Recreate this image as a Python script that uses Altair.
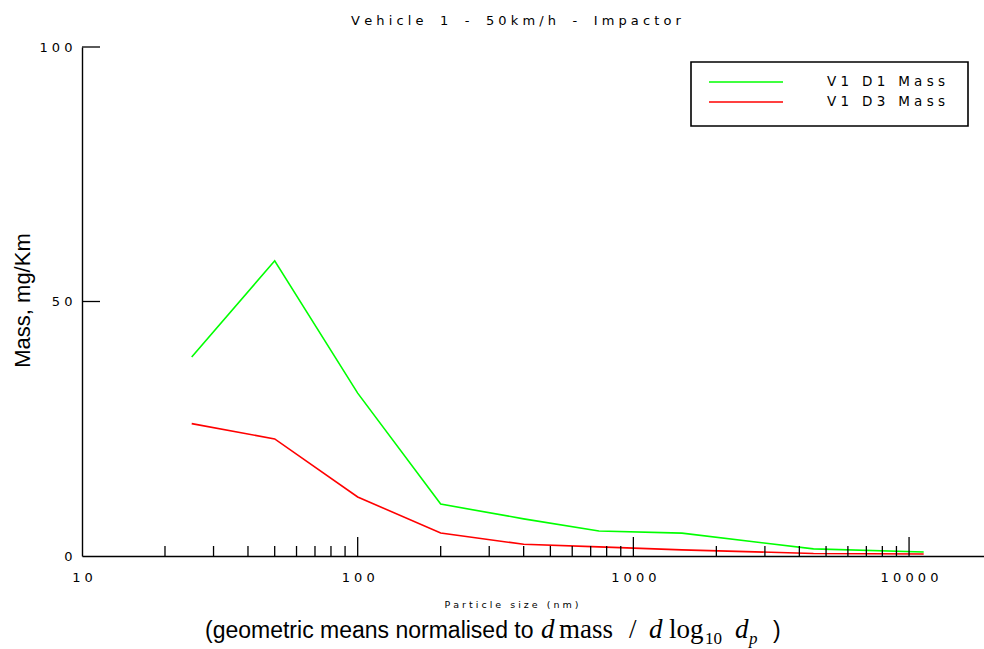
import altair as alt
import pandas as pd

# ---------------- data ----------------
sizes_nm = [25, 50, 100, 200, 400, 750, 1500, 4500, 11300]
v1_d1_mass = [39.1, 58.0, 32.0, 10.2, 7.3, 4.9, 4.5, 1.4, 0.8]
v1_d3_mass = [26.0, 23.0, 11.6, 4.5, 2.3, 1.8, 1.2, 0.5, 0.4]
series_names = ["V1 D1 Mass", "V1 D3 Mass"]
series_colors = ["#00ff00", "#ff0000"]

x_label_values = [10, 100, 1000, 10000]
y_label_values = [0, 50, 100]
x_minor_ticks = [20, 30, 40, 50, 60, 70, 80, 90,
                 200, 300, 400, 500, 600, 700, 800, 900,
                 2000, 3000, 4000, 5000, 6000, 7000, 8000, 9000]
x_major_ticks = [100, 1000, 10000]
y_major_ticks = [50, 100]

title_text = "Vehicle 1 - 50km/h - Impactor"
x_title = "Particle size (nm)"
y_title = "Mass, mg/Km"
caption_prefix = "(geometric means normalised to"

# ---------------- layout ----------------
W, H = 902, 509
PAD = {"left": 82, "top": 47, "right": 0, "bottom": 93}
FONT_UI = "DejaVu Sans"
NB = "\u00a0"


def spaced(s, gap=2):
    words = s.split(" ")
    return (" " + NB * gap + " ").join(" ".join(list(w)) for w in words)


rows = []
for s, m1, m3 in zip(sizes_nm, v1_d1_mass, v1_d3_mass):
    rows.append({"size": s, "mass": m1, "series": series_names[0]})
    rows.append({"size": s, "mass": m3, "series": series_names[1]})
df = pd.DataFrame(rows)

x_scale = alt.Scale(type="log", domain=[10, 18700], nice=False)
y_scale = alt.Scale(domain=[0, 100], nice=False, zero=True)

spaced_expr = "join(split(toString(datum.value), ''), ' ')"

x_axis = alt.Axis(
    values=x_label_values, ticks=False, grid=False,
    domainColor="black", domainWidth=1.4,
    labelExpr=spaced_expr, labelFont=FONT_UI, labelFontSize=13,
    labelColor="black", labelPadding=15, labelFlush=False,
    labelOverlap=False,
    title=spaced(x_title, 1),
    titleFont=FONT_UI, titleFontSize=9.5, titleFontWeight="normal",
    titleColor="black", titleX=429, titleY=48,
    titleAlign="center", titleBaseline="middle",
)
y_axis = alt.Axis(
    values=y_label_values, ticks=False, grid=False,
    domainColor="black", domainWidth=1.4,
    labelExpr=spaced_expr, labelFont=FONT_UI, labelFontSize=13,
    labelColor="black", labelPadding=10, labelBaseline="middle",
    labelOverlap=False, labelFlush=False,
    title=y_title, titleFont="Liberation Sans", titleFontSize=22,
    titleFontWeight="normal", titleColor="black",
    titleX=-60, titleY=253, titleAngle=-90,
    titleAlign="center", titleBaseline="middle",
)

lines = alt.Chart(df).mark_line(strokeWidth=1.6).encode(
    x=alt.X("size:Q", scale=x_scale, axis=x_axis),
    y=alt.Y("mass:Q", scale=y_scale, axis=y_axis),
    color=alt.Color(
        "series:N",
        scale=alt.Scale(domain=series_names, range=series_colors),
        legend=None,
    ),
)

minor = alt.Chart(pd.DataFrame({"t": x_minor_ticks})).mark_rule(
    color="black", strokeWidth=1.3).encode(
    x=alt.X("t:Q", scale=x_scale), y=alt.value(H), y2=alt.value(H - 10))
major = alt.Chart(pd.DataFrame({"t": x_major_ticks})).mark_rule(
    color="black", strokeWidth=1.3).encode(
    x=alt.X("t:Q", scale=x_scale), y=alt.value(H), y2=alt.value(H - 19))
yt = alt.Chart(pd.DataFrame({"t": y_major_ticks})).mark_rule(
    color="black", strokeWidth=1.3).encode(
    y=alt.Y("t:Q", scale=y_scale), x=alt.value(0), x2=alt.value(18))

# ---- legend box (built from the series arrays) ----
LX0, LY0 = 691 - 82, 62 - 47
leg_box = alt.Chart(pd.DataFrame({"a": [0]})).mark_rect(
    fill="white", stroke="black", strokeWidth=1.6).encode(
    x=alt.value(LX0), x2=alt.value(968 - 82),
    y=alt.value(LY0), y2=alt.value(126 - 47))
leg_rows = []
for i, (name, col) in enumerate(zip(series_names, series_colors)):
    yy = 82 - 47 + 20 * i
    leg_rows.append(alt.Chart(pd.DataFrame({"s": [name]})).mark_rule(
        color=col, strokeWidth=1.6).encode(
        x=alt.value(709 - 82), x2=alt.value(783 - 82), y=alt.value(yy)))
    leg_rows.append(alt.Chart(pd.DataFrame({"s": [spaced(name, 1)]})).mark_text(
        align="left", baseline="middle", font=FONT_UI, fontSize=13.5,
        color="black").encode(
        x=alt.value(827 - 82), y=alt.value(yy), text="s:N"))

cap_base_y = 638 - 47
cap1 = alt.Chart(pd.DataFrame({"t": [caption_prefix]})).mark_text(
    align="left", baseline="alphabetic", font="Liberation Sans",
    fontSize=23, color="black").encode(
    x=alt.value(205 - 82), y=alt.value(cap_base_y), text="t:N")

math_pieces = [
    # text, x(abs), dy, size, style
    ("d", 541, 0, 27, "italic"),
    ("mass", 559, 0, 27, "normal"),
    ("/", 629, 0, 27, "normal"),
    ("d", 649, 0, 27, "italic"),
    ("log", 669, 0, 27, "normal"),
    ("10", 705, 6, 17, "normal"),
    ("d", 735, 0, 27, "italic"),
    ("p", 749, 6, 17, "italic"),
    (")", 773, 0, 23, "normal"),
]
math_layers = []
for txt, xa, dy, fs, st in math_pieces:
    math_layers.append(
        alt.Chart(pd.DataFrame({"t": [txt]})).mark_text(
            align="left", baseline="alphabetic",
            font="Liberation Serif" if txt != ")" else "Liberation Sans",
            fontSize=fs, fontStyle=st, color="black").encode(
            x=alt.value(xa - 82), y=alt.value(cap_base_y + dy), text="t:N"))

chart = alt.layer(lines, minor, major, yt, leg_box, *leg_rows, cap1,
                  *math_layers).properties(
    width=W, height=H, padding=PAD, autosize="none",
    title=alt.TitleParams(
        spaced(title_text, 2), font=FONT_UI, fontSize=13,
        fontWeight="normal", color="black", anchor="middle", frame="group",
        baseline="middle", offset=7, dx=-17),
).configure(background="white", view=alt.ViewConfig(stroke=None))

chart.save("out.html", embed_options={"renderer": "svg", "actions": False})
